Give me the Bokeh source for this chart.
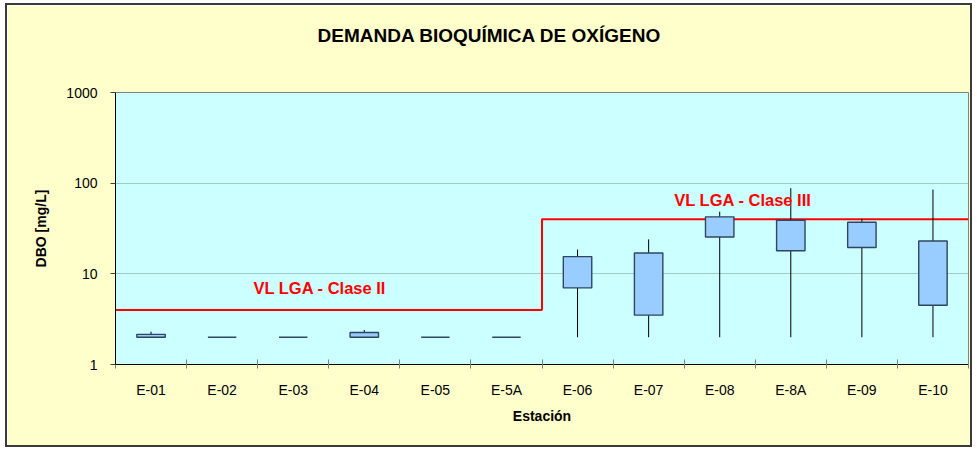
from bokeh.plotting import figure
from bokeh.models import FixedTicker, Label, ColumnDataSource, Range1d, Title
from bokeh.embed import file_html
from bokeh.resources import INLINE

# ---- data ----
stations = ["E-01", "E-02", "E-03", "E-04", "E-05", "E-5A",
            "E-06", "E-07", "E-08", "E-8A", "E-09", "E-10"]
dbo_min = [2, 2, 2, 2, 2, 2, 2, 2, 2, 2, 2, 2]
dbo_q1 = [2, 2, 2, 2, 2, 2, 7, 3.5, 25.5, 18, 19.5, 4.5]
dbo_q3 = [2.15, 2, 2, 2.25, 2, 2, 15.5, 17, 42.5, 39, 37, 23]
dbo_max = [2.3, 2, 2, 2.4, 2, 2, 18.5, 24, 48.5, 88, 40.5, 85]
limit_value = [4, 4, 4, 4, 4, 4, 40, 40, 40, 40, 40, 40]
y_ticks = [1, 10, 100, 1000]

FONT = "Liberation Sans"

pos = list(range(1, len(stations) + 1))
src = ColumnDataSource(dict(x=pos, lo=dbo_min, q1=dbo_q1, q3=dbo_q3, hi=dbo_max))

p = figure(width=967, height=444,
           x_range=Range1d(0.5, len(stations) + 0.5),
           y_range=Range1d(1, 1000), y_axis_type="log",
           output_backend="svg", toolbar_location=None,
           min_border_left=108, min_border_right=6,
           min_border_top=87, min_border_bottom=85,
           background_fill_color="#ccffff", border_fill_color="#ffffcc")
p.styles = {"border": "2px solid #3a3a3a", "margin-left": "5px", "margin-top": "3px"}
p.outline_line_color = "#808080"
p.outline_line_width = 1

# title: a blank spacer title next to the frame, then the real title above it
p.add_layout(Title(text=" ", text_font=FONT, text_font_size="10px", standoff=34), "above")
p.add_layout(Title(text="DEMANDA BIOQUÍMICA DE OXÍGENO", text_font=FONT,
                   text_font_size="19px", text_font_style="bold", text_color="black",
                   align="left", offset=202, standoff=0), "above")

# grid
p.xgrid.grid_line_color = None
p.ygrid.grid_line_color = "#6f9f80"
p.ygrid.grid_line_dash = "1 1"
p.ygrid.grid_line_width = 1

# y axis
p.yaxis.ticker = FixedTicker(ticks=y_ticks)
p.yaxis.major_label_overrides = {v: str(v) for v in y_ticks}
p.yaxis.minor_tick_line_color = None
p.yaxis.major_tick_in = 0
p.yaxis.major_tick_out = 5
p.yaxis.major_tick_line_color = "#404040"
p.yaxis.axis_line_color = "black"
p.yaxis.major_label_standoff = 13
p.yaxis.major_label_text_font = FONT
p.yaxis.major_label_text_font_size = "14px"
p.yaxis.major_label_text_color = "black"
p.yaxis.axis_label = "DBO [mg/L]"
p.yaxis.axis_label_text_font = FONT
p.yaxis.axis_label_text_font_size = "14px"
p.yaxis.axis_label_text_font_style = "bold"
p.yaxis.axis_label_text_color = "black"
p.yaxis.axis_label_standoff = 14

# x axis
edges = [i + 0.5 for i in range(0, len(stations) + 1)]
p.xaxis.ticker = FixedTicker(ticks=pos, minor_ticks=edges)
p.xaxis.major_label_overrides = {i: s for i, s in zip(pos, stations)}
p.xaxis.major_tick_line_color = None
p.xaxis.minor_tick_in = 5
p.xaxis.minor_tick_out = 4
p.xaxis.minor_tick_line_color = "#808080"
p.xaxis.axis_line_color = "black"
p.xaxis.major_label_standoff = 11
p.xaxis.major_label_text_font = FONT
p.xaxis.major_label_text_font_size = "14px"
p.xaxis.major_label_text_color = "black"
p.xaxis.axis_label = "Estación"
p.xaxis.axis_label_text_font = FONT
p.xaxis.axis_label_text_font_size = "14px"
p.xaxis.axis_label_text_font_style = "bold"
p.xaxis.axis_label_text_color = "black"
p.xaxis.axis_label_standoff = 7

# limit step line built from per-station limits
lx, ly = [], []
for x, v in zip(pos, limit_value):
    lx += [x - 0.5, x + 0.5]
    ly += [v, v]
p.line(lx, ly, line_color="#ff0000", line_width=2)

# whiskers and boxes
p.segment(x0="x", y0="lo", x1="x", y1="hi", source=src, line_color="black", line_width=1)
p.vbar(x="x", width=0.4, bottom="q1", top="q3", source=src,
       fill_color="#99ccff", line_color="#2f4560", line_width=1.4)

# limit labels
p.add_layout(Label(x=2.44, y=6.9, text="VL LGA - Clase II", text_font=FONT,
                   text_font_size="16.5px", text_font_style="bold",
                   text_align="left", text_baseline="middle", text_color="#ff0000"))
p.add_layout(Label(x=8.36, y=65, text="VL LGA - Clase III", text_font=FONT,
                   text_font_size="16.5px", text_font_style="bold",
                   text_align="left", text_baseline="middle", text_color="#ff0000"))

open("out.html", "w").write(file_html(p, INLINE))
